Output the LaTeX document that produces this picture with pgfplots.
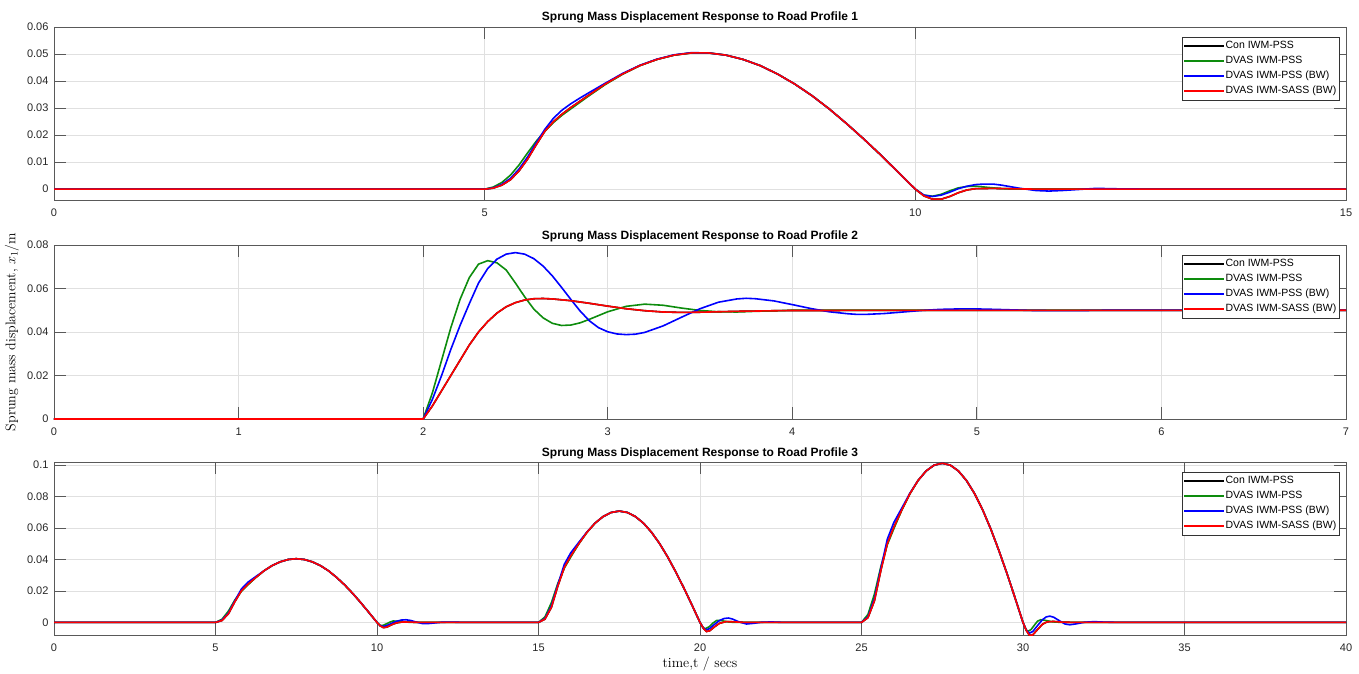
\documentclass[border=0pt]{standalone}
\usepackage{fontspec}
\newfontfamily\arial{Liberation Sans}
\usepackage{pgfplots}
\pgfplotsset{compat=1.18}
\definecolor{mgreen}{rgb}{0.05,0.55,0.05}
\pgfplotsset{
 mat/.style={
  scale only axis, width=1292pt, height=173pt,
  axis line style={black!65, line width=0.8pt},
  every tick/.style={black!65, line width=0.8pt},
  major tick length=12pt,
  tick align=inside,
  grid=major,
  major grid style={black!12, line width=0.6pt},
  tick label style={font=\arial\fontsize{11}{13}\selectfont, text=black!85},
  xticklabel style={yshift=-5pt},
  yticklabel style={xshift=-2pt},
  /pgf/number format/assume math mode=true,
  /pgf/number format/fixed, /pgf/number format/precision=2,
  scaled y ticks=false, scaled x ticks=false,
  title style={font=\arial\bfseries\fontsize{12}{14}\selectfont, at={(rel axis cs:0.5,1)}, anchor=base, yshift=0pt},
  legend style={at={(rel axis cs:0.9954,0.945)}, anchor=north east, draw=black!80, line width=0.6pt,
     font=\arial\fontsize{10.5}{12}\selectfont, inner sep=1.5pt, row sep=0pt,
     nodes={text height=8pt, text depth=3pt, inner sep=2pt}},
  legend cell align=left,
  legend image code/.code={\fill[##1, draw=none] (0pt,-0.9pt) rectangle (40pt,0.9pt);},
  every axis plot/.append style={line width=1.6pt},
 }
}
\begin{document}
\begin{tikzpicture}[x=1pt,y=1pt]
% ---------------- Plot 1
\begin{axis}[mat, at={(54pt,473pt)}, anchor=south west,
  xmin=0, xmax=15, ymin=-0.004, ymax=0.06,
  xtick={0,5,10,15}, ytick={0,0.01,0.02,0.03,0.04,0.05,0.06},
  title={Sprung Mass Displacement Response to Road Profile 1}]
\addplot[black] coordinates {(0,0)(5,0)(5.1,0.0004)(5.2,0.0015)(5.3,0.0035)(5.4,0.0068)(5.5,0.0112)(5.6,0.0165)(5.7,0.0215)(5.8,0.0250)(5.9,0.0278)(6.0,0.0302)(6.2,0.0346)(6.4,0.0389)(6.6,0.0426)(6.8,0.0457)(7.0,0.0480)(7.2,0.0496)(7.4,0.0504)(7.6,0.0504)(7.8,0.0496)(8.0,0.0480)(8.2,0.0457)(8.4,0.0426)(8.6,0.0389)(8.8,0.0346)(9.0,0.0297)(9.2,0.0243)(9.4,0.0186)(9.6,0.0126)(9.8,0.0063)(10.0,0)(10.1,-0.0025)(10.2,-0.0037)(10.3,-0.0037)(10.4,-0.0027)(10.5,-0.0013)(10.6,-0.0003)(10.7,0.0002)(10.9,0.0003)(11.2,0.0001)(11.5,0)(15,0)};
\addlegendentry{Con IWM-PSS}
\addplot[mgreen] coordinates {(0,0)(5,0)(5.1,0.0008)(5.2,0.0025)(5.3,0.0052)(5.4,0.0090)(5.5,0.0135)(5.6,0.0178)(5.7,0.0215)(5.8,0.0247)(5.9,0.0274)(6.0,0.0297)(6.2,0.0343)(6.4,0.0387)(6.6,0.0425)(6.8,0.0457)(7.0,0.0480)(7.2,0.0496)(7.4,0.0504)(7.6,0.0504)(7.8,0.0496)(8.0,0.0480)(8.2,0.0457)(8.4,0.0426)(8.6,0.0389)(8.8,0.0346)(9.0,0.0297)(9.2,0.0243)(9.4,0.0186)(9.6,0.0126)(9.8,0.0063)(10.0,0)(10.1,-0.0022)(10.2,-0.0026)(10.3,-0.0019)(10.4,-0.0006)(10.5,0.0005)(10.6,0.0010)(10.7,0.0011)(10.8,0.0008)(11.0,0.0002)(11.3,0)(15,0)};
\addlegendentry{DVAS IWM-PSS}
\addplot[blue] coordinates {(0,0)(5,0)(5.1,0.0005)(5.2,0.0018)(5.3,0.0040)(5.4,0.0075)(5.5,0.0120)(5.6,0.0172)(5.7,0.0222)(5.8,0.0263)(5.9,0.0293)(6.0,0.0316)(6.1,0.0336)(6.2,0.0355)(6.4,0.0392)(6.6,0.0428)(6.8,0.0458)(7.0,0.0481)(7.2,0.0497)(7.4,0.0505)(7.6,0.0504)(7.8,0.0496)(8.0,0.0480)(8.2,0.0457)(8.4,0.0426)(8.6,0.0389)(8.8,0.0346)(9.0,0.0297)(9.2,0.0243)(9.4,0.0186)(9.6,0.0126)(9.8,0.0063)(10.0,0)(10.1,-0.0022)(10.2,-0.0027)(10.3,-0.0022)(10.4,-0.0011)(10.5,0.0002)(10.6,0.0011)(10.7,0.0017)(10.8,0.0019)(10.9,0.0019)(11.0,0.0015)(11.2,0.0004)(11.4,-0.0005)(11.55,-0.0007)(11.7,-0.0005)(11.9,-0.0001)(12.1,0.0003)(12.4,0.0001)(12.8,0)(15,0)};
\addlegendentry{DVAS IWM-PSS (BW)}
\addplot[red] coordinates {(0,0)(5,0)(5.1,0.0004)(5.2,0.0015)(5.3,0.0035)(5.4,0.0068)(5.5,0.0112)(5.6,0.0165)(5.7,0.0215)(5.8,0.0250)(5.9,0.0278)(6.0,0.0302)(6.2,0.0346)(6.4,0.0389)(6.6,0.0426)(6.8,0.0457)(7.0,0.0480)(7.2,0.0496)(7.4,0.0504)(7.6,0.0504)(7.8,0.0496)(8.0,0.0480)(8.2,0.0457)(8.4,0.0426)(8.6,0.0389)(8.8,0.0346)(9.0,0.0297)(9.2,0.0243)(9.4,0.0186)(9.6,0.0126)(9.8,0.0063)(10.0,0)(10.1,-0.0025)(10.2,-0.0037)(10.3,-0.0037)(10.4,-0.0027)(10.5,-0.0013)(10.6,-0.0003)(10.7,0.0002)(10.9,0.0003)(11.2,0.0001)(11.5,0)(15,0)};
\addlegendentry{DVAS IWM-SASS (BW)}
\end{axis}
% ---------------- Plot 2
\begin{axis}[mat, at={(54pt,254pt)}, anchor=south west, height=174pt,
  xmin=0, xmax=7, ymin=0, ymax=0.08,
  xtick={0,1,2,3,4,5,6,7}, ytick={0,0.02,0.04,0.06,0.08},
  title={Sprung Mass Displacement Response to Road Profile 2},
  ylabel={Sprung mass displacement, $x_1$/m},
  ylabel style={at={([xshift=-42pt]rel axis cs:0,0.5)}, anchor=center, font=\fontsize{14}{16}\selectfont}]
\addplot[black] coordinates {(0,0)(2,0)(2.05,0.006)(2.1,0.013)(2.15,0.020)(2.2,0.027)(2.25,0.034)(2.3,0.040)(2.35,0.0448)(2.4,0.0487)(2.45,0.0516)(2.5,0.0535)(2.55,0.0547)(2.6,0.0553)(2.65,0.0554)(2.7,0.0552)(2.8,0.0544)(2.9,0.0532)(3.0,0.0519)(3.1,0.0507)(3.2,0.0498)(3.3,0.0492)(3.4,0.0490)(3.5,0.0491)(3.7,0.0495)(4.0,0.0499)(7,0.0500)};
\addlegendentry{Con IWM-PSS}
\addplot[mgreen] coordinates {(0,0)(2,0)(2.05,0.012)(2.1,0.027)(2.15,0.042)(2.2,0.055)(2.25,0.065)(2.3,0.0712)(2.35,0.0728)(2.4,0.0718)(2.45,0.0685)(2.5,0.0625)(2.55,0.0562)(2.6,0.0505)(2.65,0.0465)(2.7,0.0440)(2.75,0.0430)(2.8,0.0432)(2.85,0.0442)(2.9,0.0458)(3.0,0.0493)(3.1,0.0518)(3.2,0.0528)(3.3,0.0523)(3.4,0.0510)(3.5,0.0499)(3.6,0.0493)(3.7,0.0492)(3.8,0.0495)(4.0,0.0500)(7,0.0500)};
\addlegendentry{DVAS IWM-PSS}
\addplot[blue] coordinates {(0,0)(2,0)(2.05,0.009)(2.1,0.020)(2.15,0.032)(2.2,0.043)(2.25,0.053)(2.3,0.0625)(2.35,0.0692)(2.4,0.0735)(2.45,0.0758)(2.5,0.0765)(2.55,0.0758)(2.6,0.0737)(2.65,0.0703)(2.7,0.0658)(2.75,0.0605)(2.8,0.0550)(2.85,0.0497)(2.9,0.0452)(2.95,0.0420)(3.0,0.0401)(3.05,0.0391)(3.1,0.0388)(3.15,0.0390)(3.2,0.0398)(3.3,0.0428)(3.4,0.0468)(3.5,0.0507)(3.6,0.0537)(3.7,0.0552)(3.75,0.0555)(3.8,0.0553)(3.9,0.0543)(4.0,0.0526)(4.1,0.0508)(4.2,0.0493)(4.3,0.0484)(4.35,0.0481)(4.4,0.0481)(4.5,0.0485)(4.6,0.0492)(4.7,0.0499)(4.8,0.0504)(4.9,0.0506)(5.0,0.0506)(5.1,0.0504)(5.3,0.0499)(5.5,0.0498)(5.7,0.0500)(7,0.0500)};
\addlegendentry{DVAS IWM-PSS (BW)}
\addplot[red] coordinates {(0,0)(2,0)(2.05,0.006)(2.1,0.013)(2.15,0.020)(2.2,0.027)(2.25,0.034)(2.3,0.040)(2.35,0.0448)(2.4,0.0487)(2.45,0.0516)(2.5,0.0535)(2.55,0.0547)(2.6,0.0553)(2.65,0.0554)(2.7,0.0552)(2.8,0.0544)(2.9,0.0532)(3.0,0.0519)(3.1,0.0507)(3.2,0.0498)(3.3,0.0492)(3.4,0.0490)(3.5,0.0491)(3.7,0.0495)(4.0,0.0499)(7,0.0500)};
\addlegendentry{DVAS IWM-SASS (BW)}
\end{axis}
% ---------------- Plot 3
\begin{axis}[mat, at={(54pt,38pt)}, anchor=south west,
  xmin=0, xmax=40, ymin=-0.008, ymax=0.102,
  xtick={0,5,10,15,20,25,30,35,40}, ytick={0,0.02,0.04,0.06,0.08,0.1},
  title={Sprung Mass Displacement Response to Road Profile 3},
  xlabel={time,t / secs},
  xlabel style={at={([yshift=-29pt]rel axis cs:0.5,0)}, anchor=center, font=\fontsize{14}{16}\selectfont}]
\addplot[black] coordinates {(0,0)(5,0)(5.2,0.0012)(5.4,0.0055)(5.6,0.0132)(5.8,0.0200)(6.0,0.0242)(6.25,0.0286)(6.5,0.0328)(6.75,0.0361)(7.0,0.0385)(7.25,0.0400)(7.5,0.0405)(7.75,0.0400)(8.0,0.0385)(8.25,0.0361)(8.5,0.0328)(8.75,0.0286)(9.0,0.0238)(9.25,0.0184)(9.5,0.0125)(9.75,0.0063)(10.0,0)(10.1,-0.0022)(10.2,-0.0033)(10.3,-0.0030)(10.45,-0.0015)(10.6,-0.0003)(10.8,0.0003)(11.0,0.0002)(11.4,0)
(15,0)(15.2,0.0021)(15.4,0.0096)(15.6,0.0232)(15.8,0.0350)(16.0,0.0423)(16.25,0.0501)(16.5,0.0573)(16.75,0.0631)(17.0,0.0673)(17.25,0.0699)(17.5,0.0708)(17.75,0.0699)(18.0,0.0673)(18.25,0.0631)(18.5,0.0573)(18.75,0.0501)(19.0,0.0416)(19.25,0.0321)(19.5,0.0219)(19.75,0.0111)(20.0,0)(20.1,-0.0036)(20.2,-0.0058)(20.3,-0.0053)(20.45,-0.0028)(20.6,-0.0006)(20.8,0.0005)(21.0,0.0004)(21.4,0)
(25,0)(25.2,0.0030)(25.4,0.0137)(25.6,0.0331)(25.8,0.0501)(26.0,0.0605)(26.25,0.0716)(26.5,0.0819)(26.75,0.0902)(27.0,0.0963)(27.25,0.1000)(27.5,0.1012)(27.75,0.1000)(28.0,0.0963)(28.25,0.0902)(28.5,0.0819)(28.75,0.0716)(29.0,0.0595)(29.25,0.0459)(29.5,0.0313)(29.75,0.0158)(30.0,0)(30.1,-0.0050)(30.2,-0.0082)(30.3,-0.0080)(30.45,-0.0045)(30.6,-0.0012)(30.75,0.0004)(30.95,0.0006)(31.2,0.0002)(31.6,0)(40,0)};
\addlegendentry{Con IWM-PSS}
\addplot[mgreen] coordinates {(0,0)(5,0)(5.2,0.0020)(5.4,0.0072)(5.6,0.0143)(5.8,0.0198)(6.0,0.0238)(6.25,0.0286)(6.5,0.0328)(6.75,0.0361)(7.0,0.0385)(7.25,0.0400)(7.5,0.0405)(7.75,0.0400)(8.0,0.0385)(8.25,0.0361)(8.5,0.0328)(8.75,0.0286)(9.0,0.0238)(9.25,0.0184)(9.5,0.0125)(9.75,0.0063)(10.0,0)(10.1,-0.0020)(10.2,-0.0018)(10.3,-0.0008)(10.4,0.0002)(10.5,0.0009)(10.65,0.0008)(10.8,0.0004)(11.0,0.0001)(11.3,0)
(15,0)(15.2,0.0035)(15.4,0.0126)(15.6,0.0249)(15.8,0.0346)(16.0,0.0416)(16.25,0.0501)(16.5,0.0573)(16.75,0.0631)(17.0,0.0673)(17.25,0.0699)(17.5,0.0708)(17.75,0.0699)(18.0,0.0673)(18.25,0.0631)(18.5,0.0573)(18.75,0.0501)(19.0,0.0416)(19.25,0.0321)(19.5,0.0219)(19.75,0.0111)(20.0,0)(20.1,-0.0034)(20.17,-0.0040)(20.3,-0.0025)(20.4,-0.0004)(20.52,0.0013)(20.65,0.0012)(20.8,0.0006)(21.0,0.0001)(21.3,0)
(25,0)(25.2,0.0051)(25.4,0.0180)(25.6,0.0356)(25.8,0.0495)(26.0,0.0595)(26.25,0.0716)(26.5,0.0819)(26.75,0.0902)(27.0,0.0963)(27.25,0.1000)(27.5,0.1012)(27.75,0.1000)(28.0,0.0963)(28.25,0.0902)(28.5,0.0819)(28.75,0.0716)(29.0,0.0595)(29.25,0.0459)(29.5,0.0313)(29.75,0.0158)(30.0,0)(30.1,-0.0048)(30.16,-0.0056)(30.25,-0.0045)(30.35,-0.0018)(30.45,0.0008)(30.55,0.0017)(30.7,0.0013)(30.85,0.0006)(31.0,0.0002)(31.3,0)(40,0)};
\addlegendentry{DVAS IWM-PSS}
\addplot[blue] coordinates {(0,0)(5,0)(5.2,0.0015)(5.4,0.0060)(5.6,0.0138)(5.8,0.0212)(6.0,0.0255)(6.25,0.0292)(6.5,0.0328)(6.75,0.0361)(7.0,0.0385)(7.25,0.0400)(7.5,0.0405)(7.75,0.0400)(8.0,0.0385)(8.25,0.0361)(8.5,0.0328)(8.75,0.0286)(9.0,0.0238)(9.25,0.0184)(9.5,0.0125)(9.75,0.0063)(10.0,0)(10.1,-0.0021)(10.2,-0.0026)(10.3,-0.0020)(10.45,-0.0006)(10.6,0.0007)(10.75,0.0015)(10.9,0.0017)(11.05,0.0012)(11.2,0.0003)(11.4,-0.0007)(11.55,-0.0008)(11.75,-0.0004)(12.0,0.0001)(12.3,0.0002)(12.7,0)
(15,0)(15.2,0.0025)(15.4,0.0105)(15.6,0.0241)(15.8,0.0370)(16.0,0.0443)(16.25,0.0510)(16.5,0.0575)(16.75,0.0631)(17.0,0.0673)(17.25,0.0699)(17.5,0.0708)(17.75,0.0699)(18.0,0.0673)(18.25,0.0631)(18.5,0.0573)(18.75,0.0501)(19.0,0.0416)(19.25,0.0321)(19.5,0.0219)(19.75,0.0111)(20.0,0)(20.1,-0.0035)(20.2,-0.0048)(20.3,-0.0038)(20.45,-0.0012)(20.6,0.0012)(20.75,0.0025)(20.88,0.0028)(21.0,0.0022)(21.2,0.0004)(21.44,-0.0010)(21.65,-0.0006)(21.9,0.0001)(22.2,0.0003)(22.6,0)
(25,0)(25.2,0.0036)(25.4,0.0151)(25.6,0.0345)(25.8,0.0530)(26.0,0.0635)(26.25,0.0728)(26.5,0.0822)(26.75,0.0902)(27.0,0.0963)(27.25,0.1000)(27.5,0.1012)(27.75,0.1000)(28.0,0.0963)(28.25,0.0902)(28.5,0.0819)(28.75,0.0716)(29.0,0.0595)(29.25,0.0459)(29.5,0.0313)(29.75,0.0158)(30.0,0)(30.1,-0.0049)(30.2,-0.0068)(30.3,-0.0058)(30.45,-0.0020)(30.6,0.0017)(30.72,0.0035)(30.83,0.0040)(30.95,0.0033)(31.15,0.0008)(31.3,-0.0010)(31.45,-0.0015)(31.65,-0.0009)(31.9,0.0001)(32.2,0.0005)(32.5,0.0002)(33,0)(40,0)};
\addlegendentry{DVAS IWM-PSS (BW)}
\addplot[red] coordinates {(0,0)(5,0)(5.2,0.0012)(5.4,0.0055)(5.6,0.0132)(5.8,0.0200)(6.0,0.0242)(6.25,0.0286)(6.5,0.0328)(6.75,0.0361)(7.0,0.0385)(7.25,0.0400)(7.5,0.0405)(7.75,0.0400)(8.0,0.0385)(8.25,0.0361)(8.5,0.0328)(8.75,0.0286)(9.0,0.0238)(9.25,0.0184)(9.5,0.0125)(9.75,0.0063)(10.0,0)(10.1,-0.0022)(10.2,-0.0033)(10.3,-0.0030)(10.45,-0.0015)(10.6,-0.0003)(10.8,0.0003)(11.0,0.0002)(11.4,0)
(15,0)(15.2,0.0021)(15.4,0.0096)(15.6,0.0232)(15.8,0.0350)(16.0,0.0423)(16.25,0.0501)(16.5,0.0573)(16.75,0.0631)(17.0,0.0673)(17.25,0.0699)(17.5,0.0708)(17.75,0.0699)(18.0,0.0673)(18.25,0.0631)(18.5,0.0573)(18.75,0.0501)(19.0,0.0416)(19.25,0.0321)(19.5,0.0219)(19.75,0.0111)(20.0,0)(20.1,-0.0036)(20.2,-0.0058)(20.3,-0.0053)(20.45,-0.0028)(20.6,-0.0006)(20.8,0.0005)(21.0,0.0004)(21.4,0)
(25,0)(25.2,0.0030)(25.4,0.0137)(25.6,0.0331)(25.8,0.0501)(26.0,0.0605)(26.25,0.0716)(26.5,0.0819)(26.75,0.0902)(27.0,0.0963)(27.25,0.1000)(27.5,0.1012)(27.75,0.1000)(28.0,0.0963)(28.25,0.0902)(28.5,0.0819)(28.75,0.0716)(29.0,0.0595)(29.25,0.0459)(29.5,0.0313)(29.75,0.0158)(30.0,0)(30.1,-0.0050)(30.2,-0.0082)(30.3,-0.0080)(30.45,-0.0045)(30.6,-0.0012)(30.75,0.0004)(30.95,0.0006)(31.2,0.0002)(31.6,0)(40,0)};
\addlegendentry{DVAS IWM-SASS (BW)}
\end{axis}
\pgfresetboundingbox
\useasboundingbox (0pt,0pt) rectangle (1359pt,673pt);
\end{tikzpicture}
\end{document}
